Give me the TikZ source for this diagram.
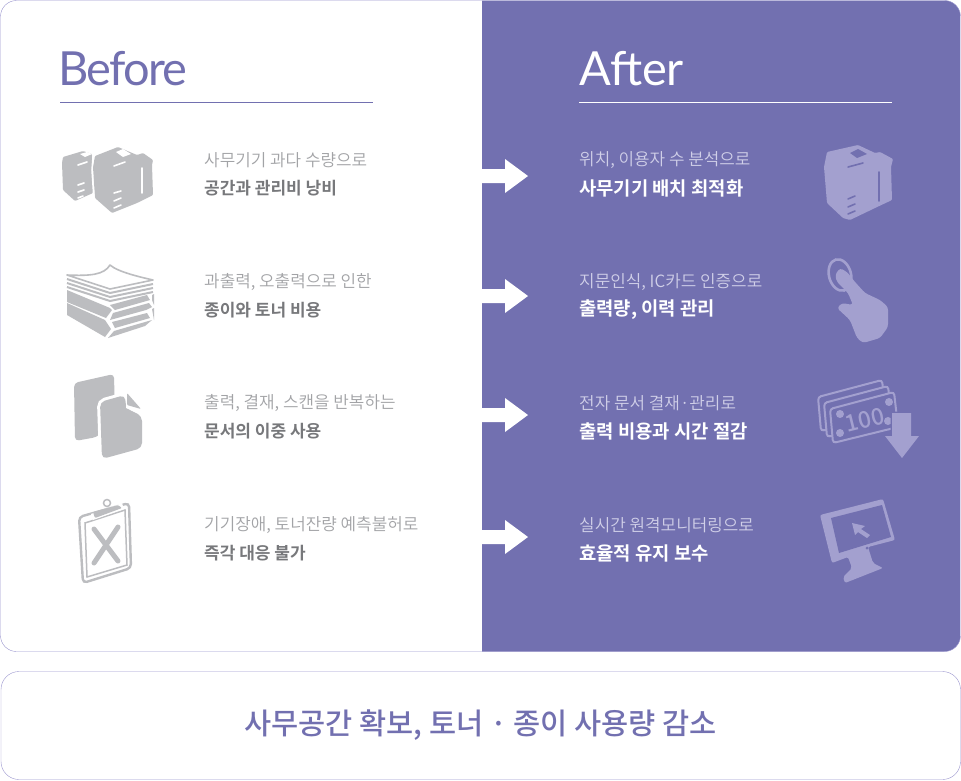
\documentclass[tikz,border=0pt]{standalone}
\usepackage{fontspec}
\setmainfont{Noto Sans CJK KR}[BoldFont={Noto Sans CJK KR Bold}]
\newfontfamily\latinfont{Lato}
\newfontfamily\lightkr{Noto Sans CJK KR DemiLight}
\newfontfamily\mediumkr{Noto Sans CJK KR Medium}
\usetikzlibrary{positioning,calc}
\definecolor{mainpurple}{HTML}{7270B0}
\definecolor{framepurple}{HTML}{9C97CF}
\definecolor{softpurple}{HTML}{A3A0CF}
\definecolor{palegray}{HTML}{BCBDC0}
\definecolor{topgray}{HTML}{A2A3A6}
\definecolor{strongray}{HTML}{77787B}
\definecolor{paletext}{HTML}{D0CFE8}
\tikzset{
	toptext/.style={anchor=west,inner sep=0pt,font=\lightkr\fontsize{16.9}{17}\selectfont},
	subtext/.style={anchor=west,inner sep=0pt,font=\bfseries\fontsize{17}{17}\selectfont},
	bigsubtext/.style={anchor=west,inner sep=0pt,font=\bfseries\fontsize{18.8}{19}\selectfont},
	headtext/.style={anchor=west,inner sep=0pt,font=\latinfont\fontsize{47}{47}\selectfont},
	stepline/.style={line width=1pt},
	iconrule/.style={line width=1.6pt,line cap=round}
}
\begin{document}
\begin{tikzpicture}[x=1pt,y=-1pt]
	\useasboundingbox (0,0) rectangle (961,780);
	% panels
	\fill[white,rounded corners=16pt] (0.5,0.5) rectangle (960.5,651.5);
	\begin{scope}
		\clip[rounded corners=16pt] (0.5,0.5) rectangle (960.5,651.5);
		\fill[mainpurple] (482,0) rectangle (961,652);
	\end{scope}
	\draw[framepurple,rounded corners=16pt] (0.5,0.5) rectangle (960.5,651.5);
	\draw[framepurple,fill=white,rounded corners=18pt] (1,671.5) rectangle (960.5,779.5);
	% headings
	\node[headtext,text=mainpurple] (before) at (58,69) {\addfontfeature{LetterSpace=-3.6}Before};
	\node[headtext,text=white] (after) at (579,69) {After};
	\draw[mainpurple,stepline] (60,102.5) -- (373,102.5);
	\draw[white,stepline] (579,102.5) -- (892,102.5);
	% left column
	\node[toptext,text=topgray] (lefta) at (204,160) {사무기기 과다 수량으로};
	\node[subtext,text=strongray] (leftb) at (204,188) {공간과 관리비 낭비};
	\node[toptext,text=topgray] (leftc) at (204,282) {과출력, 오출력으로 인한};
	\node[subtext,text=strongray] (leftd) at (204,310) {종이와 토너 비용};
	\node[toptext,text=topgray] (lefte) at (204,403) {출력, 결재, 스캔을 반복하는};
	\node[subtext,text=strongray] (leftf) at (204,431) {문서의 이중 사용};
	\node[toptext,text=topgray] (leftg) at (204,525) {기기장애, 토너잔량 예측불허로};
	\node[subtext,text=strongray] (lefth) at (204,553) {즉각 대응 불가};
	% right column
	\node[toptext,text=paletext] (righta) at (579,160) {위치, 이용자 수 분석으로};
	\node[bigsubtext,text=white] (rightb) at (579,188) {사무기기 배치 최적화};
	\node[toptext,text=paletext] (rightc) at (579,282) {지문인식, IC카드 인증으로};
	\node[bigsubtext,text=white] (rightd) at (579,310) {출력량, 이력 관리};
	\node[toptext,text=paletext] (righte) at (579,403) {전자 문서 결재·관리로};
	\node[bigsubtext,text=white] (rightf) at (579,431) {출력 비용과 시간 절감};
	\node[toptext,text=paletext] (rightg) at (579,525) {실시간 원격모니터링으로};
	\node[bigsubtext,text=white] (righth) at (579,553) {효율적 유지 보수};
	% arrows
	\foreach \ypos in {176,296,415,537} {
		\fill[white] (482,\ypos-7) -- (505,\ypos-7) -- (505,\ypos-17) -- (528,\ypos) -- (505,\ypos+17) -- (505,\ypos+7) -- (482,\ypos+7) -- cycle;
	}
	% footer
	\node[text=mainpurple,font=\mediumkr\fontsize{29.5}{30}\selectfont,inner sep=0pt] (summary) at (480.5,725) {사무공간 확보, 토너 · 종이 사용량 감소};
	% printers left
	\fill[palegray,rounded corners=1pt] (63,157) -- (83,151) -- (92,154) -- (92,163) -- (93,175) -- (93,193) -- (75,201) -- (63,190) -- (62,163) -- cycle;
	\fill[palegray,rounded corners=1pt] (95,156) -- (118,147) -- (137,155) -- (143,153) -- (153,160) -- (152,165) -- (153,195) -- (137,203) -- (112,213) -- (95,198) -- (93,167) -- cycle;
	\draw[white,line width=1.5pt] (93.5,150) -- (92,170) -- (94,200);
	\draw[white,iconrule] (78,165) -- (87,162) (78,185) -- (84,183) (78,192) -- (84,190) (78,198) -- (83,196);
	\draw[white,iconrule] (114,166) -- (125,162) (114,193) -- (121,191) (114,201) -- (121,198) (114,208) -- (121,205) (142,168) -- (142,193);
	\fill[white] (116,152) -- (123,149) -- (131,154) -- (123,157) -- cycle;
	\fill[white] (80,154) -- (87,152) -- (92,154) -- (85,157) -- cycle;
	% paper stack
	\draw[palegray,line width=1.6pt,line join=round,fill=white] (67,275) .. controls (90,276) and (104,275) .. (110,265) .. controls (118,272) and (140,277) .. (153,280) -- (110,289) -- cycle;
	\foreach \ypos in {0,4,8} {
		\draw[palegray,line width=2pt] (67,279+\ypos) -- (110,293+\ypos) -- (153,284+\ypos);
	}
	\fill[palegray] (67,290) -- (110,308) -- (112,310) -- (106,318) -- (67,302) -- cycle;
	\fill[palegray] (67,303) -- (105,320) -- (111,329) -- (105,337) -- (67,315) -- cycle;
	\fill[palegray] (110,305) -- (147,295) -- (150,300) -- (115,310) -- cycle;
	\fill[palegray] (113,313) -- (149,303) -- (152,307) -- (146,310) -- (110,320) -- cycle;
	\fill[palegray] (112,322) -- (147,313) -- (150,318) -- (115,328) -- cycle;
	\fill[palegray] (114,331) -- (152,320) -- (145,326) -- (108,338) -- cycle;
	\fill[palegray] (152,295) -- (154,294) -- (154,305) -- (152,300) -- cycle;
	\fill[palegray] (152,309) -- (154,308) -- (154,320) -- cycle;
	% documents
	\fill[palegray,rounded corners=4pt] (74,383) -- (114,374) -- (115,420) -- (97,437) -- (75,441) -- cycle;
	\fill[palegray,rounded corners=5pt,preaction={draw=white,line width=6pt}] (100,402) -- (125,395) -- (126,408) -- (142,416) -- (142,448) -- (102,459) -- cycle;
	\fill[white] (126,392) -- (128,392) -- (144,412) -- (142,415) -- (126,408) -- cycle;
	\fill[palegray,rounded corners=1pt] (127,393) -- (141,409) -- (127,405) -- cycle;
	% clipboard
	\draw[palegray,line width=2.4pt,rounded corners=4pt] (79,517) -- (129,503) -- (131,568) -- (83,583) -- cycle;
	\draw[palegray,line width=1.5pt] (85,523) -- (125,510) -- (127,565) -- (87,577) -- cycle;
	\fill[white] (91,514) -- (122,503) -- (124,509) -- (93,520) -- cycle;
	\fill[palegray,rounded corners=1pt] (93,512) -- (118,505) -- (122,508) -- (95,518) -- cycle;
	\draw[palegray,line width=1.5pt] (107,503) circle[radius=3.5pt];
	\draw[palegray,line width=5pt,line cap=round] (94,529) -- (118,561) (118,527) -- (94,563);
	% printer right
	\fill[softpurple,rounded corners=1pt] (827,152) -- (858,145) -- (875,153) -- (880,152) -- (893,159) -- (891,167) -- (892,200) -- (875,208) -- (850,220) -- (843,218) -- (827,203) -- (824,167) -- cycle;
	\fill[mainpurple] (850,153) -- (858,149) -- (867,154) -- (857,158) -- cycle;
	\draw[mainpurple,iconrule] (848,167) -- (863,163) (848,199) -- (855,196) (848,207) -- (855,204) (848,214) -- (855,211) (879,172) -- (879,201);
	% finger
	\draw[softpurple,line width=2.6pt,rotate around={15:(840,275)}] (840,275) ellipse[x radius=11pt,y radius=16pt];
	\fill[softpurple,rounded corners=3pt] (835,275) -- (840,268) -- (847,272) -- (855,282) -- (865,293) -- (880,300) -- (888,307) -- (888,327) -- (880,338) -- (863,343) -- (857,338) -- (850,320) -- (837,308) -- (842,303) -- (853,305) -- (848,293) -- (837,282) -- cycle;
	% money
	\foreach \xpos/\ypos in {0/0,6/6,12/12} {
		\draw[softpurple,line width=2pt,rounded corners=3pt,fill=mainpurple] (818+\xpos,397+\ypos) -- (882+\xpos,380+\ypos) -- (886+\xpos,415+\ypos) -- (821+\xpos,431+\ypos) -- cycle;
	}
	\node[text=softpurple,rotate=14,inner sep=0pt,font=\mediumkr\fontsize{23}{23}\selectfont] (amount) at (865,420) {100};
	\fill[softpurple] (840,414) circle[radius=4pt] (840,433) circle[radius=4pt] (889,402) circle[radius=4pt] (888,421) circle[radius=4pt];
	\fill[softpurple,preaction={draw=mainpurple,line width=3pt}] (892,413) -- (911,413) -- (911,436) -- (919,436) -- (902,458) -- (885,436) -- (892,436) -- cycle;
	% monitor
	\fill[softpurple,rounded corners=2pt] (820,515) -- (883,499) -- (895,540) -- (868,547) -- (873,563) -- (883,568) -- (845,583) -- (843,577) -- (852,568) -- (848,557) -- (832,563) -- cycle;
	\fill[mainpurple] (831,518) -- (882,505) -- (891,537) -- (839,553) -- cycle;
	\fill[mainpurple] (867,548) circle[radius=1.5pt];
	\fill[softpurple] (852,523) -- (865,526) -- (861,529) -- (870,535) -- (867,538) -- (858,532) -- (855,535) -- cycle;
\end{tikzpicture}
\end{document}
